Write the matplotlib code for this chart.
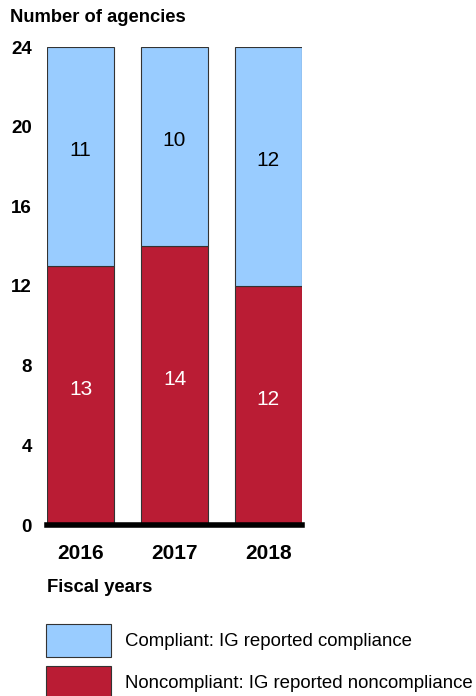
import matplotlib
matplotlib.use("Agg")
import matplotlib.pyplot as plt
from matplotlib.patches import Rectangle

years = ["2016", "2017", "2018"]
noncompliant = [13, 14, 12]
compliant = [11, 10, 12]
y_ticks = [0, 4, 8, 12, 16, 20, 24]

BLUE = "#99CCFF"
RED = "#BA1C34"

plt.rcParams["font.family"] = ["Liberation Sans", "DejaVu Sans"]

fig = plt.figure(figsize=(4.76, 6.96), dpi=100)
ax = fig.add_axes([47 / 476, 171 / 696, 255 / 476, 478 / 696])

x = list(range(len(years)))
width = 0.717
ax.bar(x, noncompliant, width, color=RED, edgecolor="#333333", linewidth=0.8)
ax.bar(x, compliant, width, bottom=noncompliant, color=BLUE,
       edgecolor="#333333", linewidth=0.8)

for i in x:
    ax.text(i, noncompliant[i] / 2 + 0.3, str(noncompliant[i]), ha="center",
            va="center", color="white", fontsize=15)
    ax.text(i, noncompliant[i] + compliant[i] / 2 + 0.3, str(compliant[i]),
            ha="center", va="center", color="black", fontsize=15)

ax.set_xlim(-width / 2, len(years) - 1 + width / 2)
ax.set_ylim(0, 24)
ax.axhline(0, color="black", linewidth=4, clip_on=False)

for s in ax.spines.values():
    s.set_visible(False)
ax.set_yticks(y_ticks)
ax.set_yticklabels([str(t) for t in y_ticks], fontsize=13.5, fontweight="bold")
ax.set_xticks(x)
ax.set_xticklabels(years, fontsize=15, fontweight="bold")
ax.tick_params(axis="both", length=0)
ax.tick_params(axis="y", pad=11)
ax.tick_params(axis="x", pad=14)

fig.text(10 / 476, 1 - 17 / 696, "Number of agencies", fontsize=13.2,
         fontweight="bold", va="center", ha="left")
fig.text(47 / 476, 1 - 587 / 696, "Fiscal years", fontsize=13.3,
         fontweight="bold", va="center", ha="left")

# legend drawn manually to match the layout
legend = [(BLUE, "Compliant: IG reported compliance", 624),
          (RED, "Noncompliant: IG reported noncompliance", 666)]
for color, label, top in legend:
    fig.patches.append(Rectangle((46 / 476, 1 - (top + 33) / 696), 65 / 476, 33 / 696,
                                 transform=fig.transFigure, facecolor=color,
                                 edgecolor="#333333", linewidth=0.8))
    fig.text(125 / 476, 1 - (top + 17) / 696, label, fontsize=13.4,
             va="center", ha="left")

fig.savefig("out.png", dpi=100)
